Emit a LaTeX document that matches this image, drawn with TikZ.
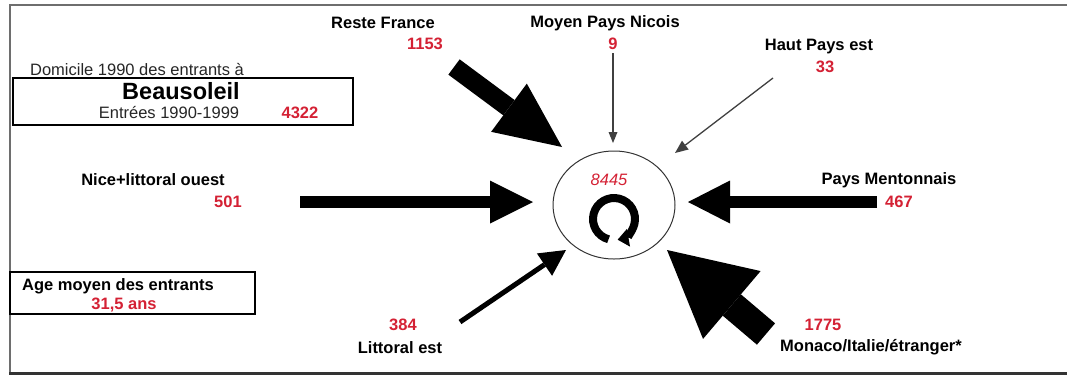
\documentclass[tikz,border=0pt]{standalone}
\usepackage{fontspec}
\setmainfont{Liberation Sans}
\usetikzlibrary{arrows.meta,shapes.geometric}
\definecolor{numred}{RGB}{212,33,52}
\definecolor{framegray}{RGB}{110,110,110}
\begin{document}
\begin{tikzpicture}[x=1pt,y=-1pt,
  lbl/.style={inner sep=0pt, font=\fontsize{16.5}{18}\selectfont\bfseries},
  plain/.style={inner sep=0pt, text=black!85, font=\fontsize{16.5}{18}\selectfont},
  num/.style={inner sep=0pt, text=numred, font=\fontsize{16.5}{18}\selectfont\bfseries},
  block/.style={line width=#1, line cap=butt},
  thinflow/.style={draw=black!75, line width=1.3pt}
]
\useasboundingbox (0,0) rectangle (1067,378);

% outer frame (open on the right)
\draw[framegray, line width=2.5pt] (1067,5) -- (10,5) -- (10,373);
\draw[black!80, line width=3pt] (9,373) -- (1067,373);

% title box
\draw[line width=2.5pt] (13,78) rectangle (353,125);
\node[plain] (dom) at (137,70) {Domicile 1990 des entrants à};
\node[inner sep=0pt, font=\fontsize{23.5}{26}\selectfont\bfseries] (beau) at (181,91) {Beausoleil};
\node[plain] (entr) at (169,113) {Entrées 1990-1999};
\node[num] (tot) at (300,113) {4322};

% age box
\draw[line width=1.5pt] (10,272) rectangle (255,314);
\node[lbl] (age) at (118,286) {Age moyen des entrants};
\node[num] (agev) at (124,305) {31,5 ans};

% central node
\node[draw=black!80, line width=1pt, ellipse, minimum width=122pt, minimum height=108pt, inner sep=0pt] (hub) at (614,205) {};
\node[inner sep=0pt, text=numred, font=\fontsize{16.5}{18}\selectfont\itshape] (stay) at (609,180) {8445};
\coordinate (loop) at (614,219);
\draw[line width=8pt, -{Triangle[length=11pt,width=18pt,line width=0pt]}]
  (loop) ++(105:21) arc[start angle=105, end angle=440, radius=21];

% origin labels
\node[lbl] (rf) at (383,23) {Reste France};
\node[num] (rfv) at (425,44) {1153};
\node[lbl] (mp) at (605,23) {Moyen Pays Nicois};
\node[num] (mpv) at (613,44) {9};
\node[lbl] (hp) at (819,47) {Haut Pays est};
\node[num] (hpv) at (825,67) {33};
\node[lbl] (ni) at (153,180) {Nice+littoral ouest};
\node[num] (niv) at (228,202) {501};
\node[lbl] (pm) at (889,180) {Pays Mentonnais};
\node[num] (pmv) at (899,202) {467};
\node[num] (lev) at (403,325) {384};
\node[lbl] (le) at (400,348) {Littoral est};
\node[num] (mov) at (823,325) {1775};
\node[lbl] (mo) at (871,347) {Monaco/Italie/étranger*};

% arrow ends
\coordinate (rfA) at (454,67);   \coordinate (rfB) at (562,147);
\coordinate (mpA) at (613,53);   \coordinate (mpB) at (613,143);
\coordinate (hpA) at (773,78);   \coordinate (hpB) at (675,153);
\coordinate (niA) at (300,202);  \coordinate (niB) at (533,202);
\coordinate (pmA) at (877,202);  \coordinate (pmB) at (688,202);
\coordinate (leA) at (460,322);  \coordinate (leB) at (566,250);
\coordinate (moA) at (766,334);  \coordinate (moB) at (667,250);

% flows into Beausoleil
\draw[block=19pt, -{Triangle[length=66pt,width=60pt,line width=0pt]}] (rfA) -- (rfB);
\draw[thinflow, -{Triangle[length=11pt,width=9pt,line width=0pt]}] (mpA) -- (mpB);
\draw[thinflow, -{Triangle[length=13pt,width=11pt,line width=0pt]}] (hpA) -- (hpB);
\draw[block=12pt, -{Triangle[length=43pt,width=43pt,line width=0pt]}] (niA) -- (niB);
\draw[block=12pt, -{Triangle[length=42pt,width=43pt,line width=0pt]}] (pmA) -- (pmB);
\draw[block=5pt, -{Triangle[length=26pt,width=27pt,line width=0pt]}] (leA) -- (leB);
\draw[block=28pt, -{Triangle[length=85pt,width=89pt,line width=0pt]}] (moA) -- (moB);
\end{tikzpicture}
\end{document}
